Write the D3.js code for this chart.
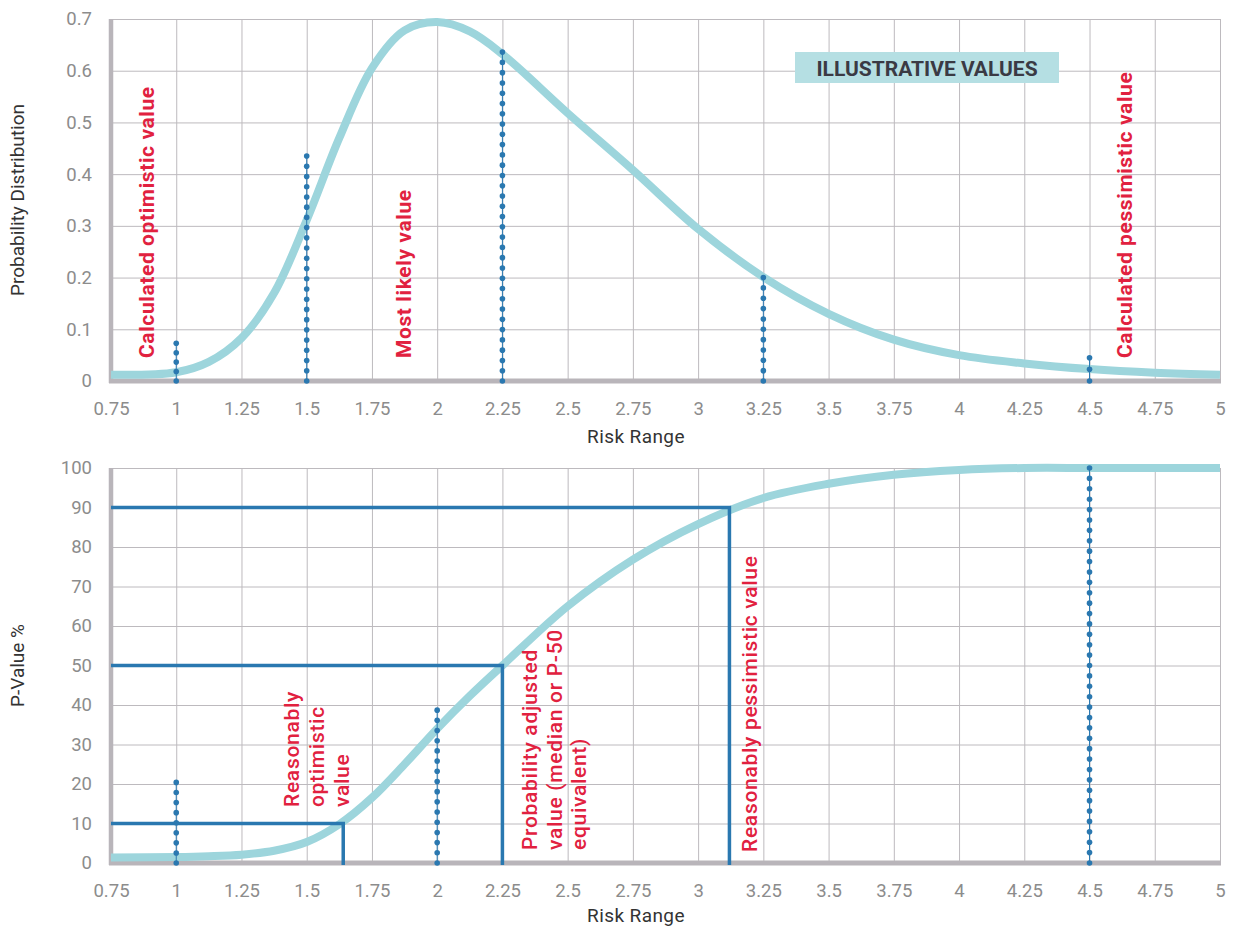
<!DOCTYPE html>
<html>
<head>
<meta charset="utf-8">
<script src="https://cdn.jsdelivr.net/npm/d3@7"></script>
<style>
  body { margin: 0; background: #fff; }
  svg { display: block; font-family: Roboto, 'Noto Sans', sans-serif; }
</style>
</head>
<body>
<svg id="chart" width="1235" height="927"></svg>
<script>
// shared x axis
const riskTicks = [0.75, 1, 1.25, 1.5, 1.75, 2, 2.25, 2.5, 2.75, 3, 3.25, 3.5, 3.75, 4, 4.25, 4.5, 4.75, 5];
const pdfTicks = [0, 0.1, 0.2, 0.3, 0.4, 0.5, 0.6, 0.7];
const pvTicks = [0, 10, 20, 30, 40, 50, 60, 70, 80, 90, 100];

// top panel: probability distribution
const pdfX = [0.75, 1, 1.125, 1.25, 1.375, 1.5, 1.625, 1.75, 1.875, 2, 2.125, 2.25, 2.5, 2.75, 3, 3.25, 3.5, 3.75, 4, 4.25, 4.5, 4.75, 5];
const pdfY = [0.012, 0.017, 0.037, 0.083, 0.17, 0.311, 0.47, 0.605, 0.678, 0.694, 0.676, 0.632, 0.518, 0.408, 0.294, 0.201, 0.13, 0.08, 0.05, 0.034, 0.023, 0.016, 0.012];
const pdfMarkX = [1, 1.5, 2.25, 3.25, 4.5];
const pdfMarkTop = [0.073, 0.435, 0.636, 0.2, 0.045];

// bottom panel: cumulative P-value
const cdfX = [0.75, 1, 1.125, 1.25, 1.375, 1.5, 1.625, 1.75, 1.875, 2, 2.125, 2.25, 2.5, 2.75, 3, 3.25, 3.5, 3.75, 4, 4.25, 4.5, 4.75, 5];
const cdfY = [1.4, 1.5, 1.7, 2.1, 3.1, 5.3, 9.8, 16.5, 25, 34, 42.3, 50, 65, 76.8, 85.8, 92.4, 96, 98.3, 99.5, 100, 100, 100, 100];
const cdfMarkX = [1, 2, 4.5];
const cdfMarkTop = [20.4, 38.7, 100];
const pLevels = [10, 50, 90];
const pRisk = [1.64, 2.25, 3.12];

const gridColor = '#bdbabe';
const axisColor = '#b9b5ba';
const curveColor = '#9dd5dc';
const blue = '#2a78b0';
const red = '#e1213f';

const svg = d3.select('#chart');
const x = d3.scaleLinear().domain([0.75, 5]).range([111, 1220]);
const yTop = d3.scaleLinear().domain([0, 0.7]).range([381, 19]);
const yBot = d3.scaleLinear().domain([0, 100]).range([863, 468]);

function panel(y, ticks, title, xTitleY) {
  const g = svg.append('g');
  const y0 = y.range()[0];
  const y1 = y.range()[1];

  // grid
  g.append('g')
    .attr('transform', `translate(0, ${y0})`)
    .call(d3.axisBottom(x).tickValues(riskTicks).tickSize(-(y0 - y1)).tickFormat(''))
    .call(s => s.select('.domain').remove())
    .selectAll('line').attr('stroke', gridColor);
  g.append('g')
    .attr('transform', `translate(${x.range()[0]}, 0)`)
    .call(d3.axisLeft(y).tickValues(ticks).tickSize(-(x.range()[1] - x.range()[0])).tickFormat(''))
    .call(s => s.select('.domain').remove())
    .selectAll('line').attr('stroke', gridColor);

  // tick labels
  g.append('g')
    .attr('transform', `translate(0, ${y0})`)
    .call(d3.axisBottom(x).tickValues(riskTicks).tickSize(0).tickPadding(21).tickFormat(d => String(d)))
    .call(s => s.select('.domain').remove())
    .selectAll('text').attr('fill', '#8c8c8c').attr('font-size', 18.5).attr('font-family', 'Roboto');
  g.append('g')
    .attr('transform', `translate(${x.range()[0]}, 0)`)
    .call(d3.axisLeft(y).tickValues(ticks).tickSize(0).tickPadding(19).tickFormat(d => String(d)))
    .call(s => s.select('.domain').remove())
    .selectAll('text').attr('fill', '#8c8c8c').attr('font-size', 18.5).attr('font-family', 'Roboto');

  // thick axis lines
  g.append('line')
    .attr('x1', x.range()[0]).attr('x2', x.range()[0])
    .attr('y1', y1).attr('y2', y0 + 2)
    .attr('stroke', axisColor).attr('stroke-width', 4.5);
  g.append('line')
    .attr('x1', x.range()[0] - 2).attr('x2', x.range()[1] + 1)
    .attr('y1', y0).attr('y2', y0)
    .attr('stroke', axisColor).attr('stroke-width', 5);

  // axis titles
  g.append('text')
    .attr('transform', `translate(24, ${(y0 + y1) / 2}) rotate(-90)`)
    .attr('text-anchor', 'middle')
    .attr('fill', '#333').attr('font-size', 19)
    .text(title);
  g.append('text')
    .attr('x', 636).attr('y', xTitleY)
    .attr('text-anchor', 'middle')
    .attr('fill', '#333').attr('font-size', 19).attr('letter-spacing', 0.4)
    .text('Risk Range');
  return g;
}

function curve(g, y, xs, ys) {
  const line = d3.line().x(d => x(d[0])).y(d => y(d[1])).curve(d3.curveCatmullRom.alpha(0.5));
  g.append('path')
    .datum(xs.map((v, i) => [v, ys[i]]))
    .attr('d', line)
    .attr('fill', 'none')
    .attr('stroke', curveColor)
    .attr('stroke-width', 8);
}

function dotted(g, y, xs, tops) {
  xs.forEach((v, i) => {
    const px = x(v);
    const bottom = y(0);
    const topY = y(tops[i]);
    const n = Math.max(2, Math.round((bottom - topY) / 10.3));
    g.append('line')
      .attr('x1', px).attr('x2', px).attr('y1', bottom).attr('y2', topY)
      .attr('stroke', blue).attr('stroke-width', 1);
    g.selectAll(null)
      .data(d3.range(n + 1))
      .enter().append('circle')
        .attr('cx', px)
        .attr('cy', k => bottom - k * (bottom - topY) / n)
        .attr('r', 2.8)
        .attr('fill', blue);
  });
}

function vlabel(g, px, py, lines, weight, size, gap, spacing) {
  const t = g.append('text')
    .attr('transform', `translate(${px}, ${py}) rotate(-90)`)
    .attr('fill', red)
    .attr('font-size', size)
    .attr('font-weight', weight)
    .attr('letter-spacing', spacing);
  lines.forEach((s, i) => {
    t.append('tspan').attr('x', 0).attr('dy', i === 0 ? 0 : gap).text(s);
  });
}

// ---- top panel
const topPanel = panel(yTop, pdfTicks, 'Probability Distribution', 443);
curve(topPanel, yTop, pdfX, pdfY);
dotted(topPanel, yTop, pdfMarkX, pdfMarkTop);

vlabel(topPanel, 154, 358, ['Calculated optimistic value'], 700, 21, 0, 0.6);
vlabel(topPanel, 411, 358, ['Most likely value'], 700, 21, 0, 0.6);
vlabel(topPanel, 1132, 358, ['Calculated pessimistic value'], 700, 21, 0, 0.6);

topPanel.append('rect')
  .attr('x', 795).attr('y', 52).attr('width', 264).attr('height', 31)
  .attr('fill', '#b5dfe3');
topPanel.append('text')
  .attr('x', 927).attr('y', 76)
  .attr('text-anchor', 'middle')
  .attr('fill', '#3a3a44').attr('font-size', 21).attr('font-weight', 700)
  .text('ILLUSTRATIVE VALUES');

// ---- bottom panel
const botPanel = panel(yBot, pvTicks, 'P-Value %', 922);
curve(botPanel, yBot, cdfX, cdfY);

pLevels.forEach((p, i) => {
  botPanel.append('path')
    .attr('d', d3.line()([[x(0.75), yBot(p)], [x(pRisk[i]), yBot(p)], [x(pRisk[i]), yBot(0) + 2]]))
    .attr('fill', 'none')
    .attr('stroke', blue)
    .attr('stroke-width', 3.5);
});
dotted(botPanel, yBot, cdfMarkX, cdfMarkTop);

vlabel(botPanel, 299, 807, ['Reasonably', 'optimistic', 'value'], 500, 21, 25, 0.7);
vlabel(botPanel, 537, 850, ['Probability adjusted', 'value (median or P-50', 'equivalent)'], 500, 21, 24.5, 0.7);
vlabel(botPanel, 757, 852, ['Reasonably pessimistic value'], 500, 21, 0, 0.7);
</script>
</body>
</html>
